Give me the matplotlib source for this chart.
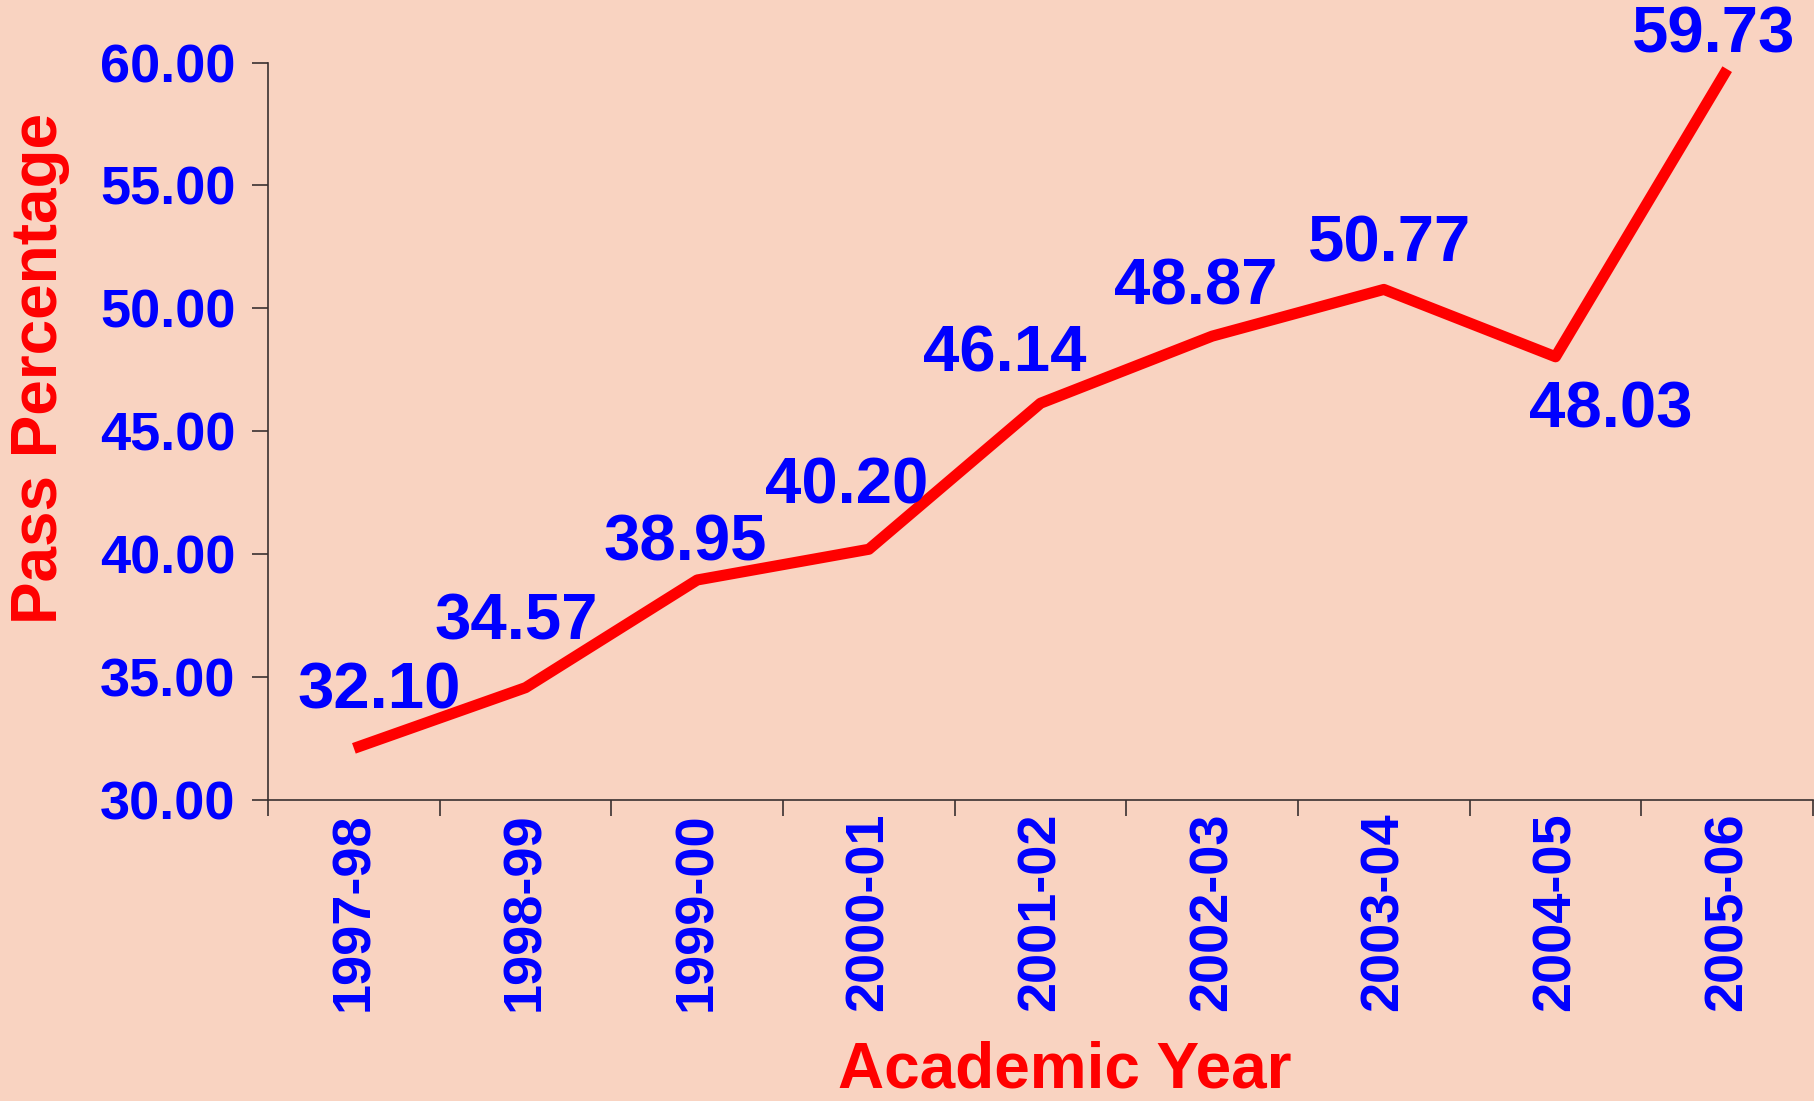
import numpy as np
import matplotlib
matplotlib.use('Agg')
import matplotlib.pyplot as plt
from matplotlib.ticker import FormatStrFormatter

plt.rcParams['font.family'] = ['Liberation Sans', 'DejaVu Sans']
plt.rcParams['font.weight'] = 'bold'

years = ['1997-98', '1998-99', '1999-00', '2000-01', '2001-02',
         '2002-03', '2003-04', '2004-05', '2005-06']
pass_pct = [32.10, 34.57, 38.95, 40.20, 46.14, 48.87, 50.77, 48.03, 59.73]

# label offsets in points (hand placed like the original)
label_offsets = [(18, 41), (-7, 47), (-9, 26), (-16, 45), (-26, 35),
                 (-12, 35), (4, 32), (40, -39), (-10, 24)]

bg = '#F9D3C1'
blue = '#0000FF'
red = '#FF0000'

fig = plt.figure(figsize=(18.15, 11.01), dpi=100)
fig.patch.set_facecolor(bg)
ax = fig.add_axes([0.1477, 0.2734, 0.8512, 0.6698])
ax.set_facecolor(bg)

x = np.arange(len(years))
ax.plot(x, pass_pct, color=red, linewidth=8, solid_capstyle='butt')

for xi, v, (dx, dy) in zip(x, pass_pct, label_offsets):
    ax.annotate(f'{v:.2f}', (xi, v), xytext=(dx, dy), textcoords='offset points',
                ha='center', va='center', fontsize=47, fontweight='bold',
                color=blue, annotation_clip=False)

ax.set_xlim(-0.5, len(years) - 0.5)
ax.set_ylim(30, 60)
ax.set_yticks(np.arange(30, 61, 5))
ax.yaxis.set_major_formatter(FormatStrFormatter('%.2f'))

ax.set_xticks(np.arange(-0.5, len(years), 1))
ax.set_xticklabels([])
ax.set_xticks(x, minor=True)
ax.set_xticklabels(years, minor=True, rotation=90)

for s in ['top', 'right']:
    ax.spines[s].set_visible(False)
for s in ['left', 'bottom']:
    ax.spines[s].set_color('#3a3030')
    ax.spines[s].set_linewidth(1.2)

ax.tick_params(axis='y', direction='out', length=11.5, width=1.2, color='#3a3030',
               labelsize=39, labelcolor=blue, pad=12)
ax.tick_params(axis='x', which='major', direction='out', length=11.5, width=1.2,
               color='#3a3030')
ax.tick_params(axis='x', which='minor', length=0, labelsize=39, labelcolor=blue, pad=9)
for t in ax.get_yticklabels() + ax.get_xticklabels(minor=True):
    t.set_fontweight('bold')

fig.text(40 / 1815, 1 - 368 / 1101, 'Pass Percentage', rotation=90, ha='center',
         va='center', fontsize=46, fontweight='bold', color=red)
fig.text(1065 / 1815, 1 - 1071 / 1101, 'Academic Year', ha='center', va='center',
         fontsize=46, fontweight='bold', color=red)

fig.savefig('out.png', dpi=100, facecolor=fig.get_facecolor())
